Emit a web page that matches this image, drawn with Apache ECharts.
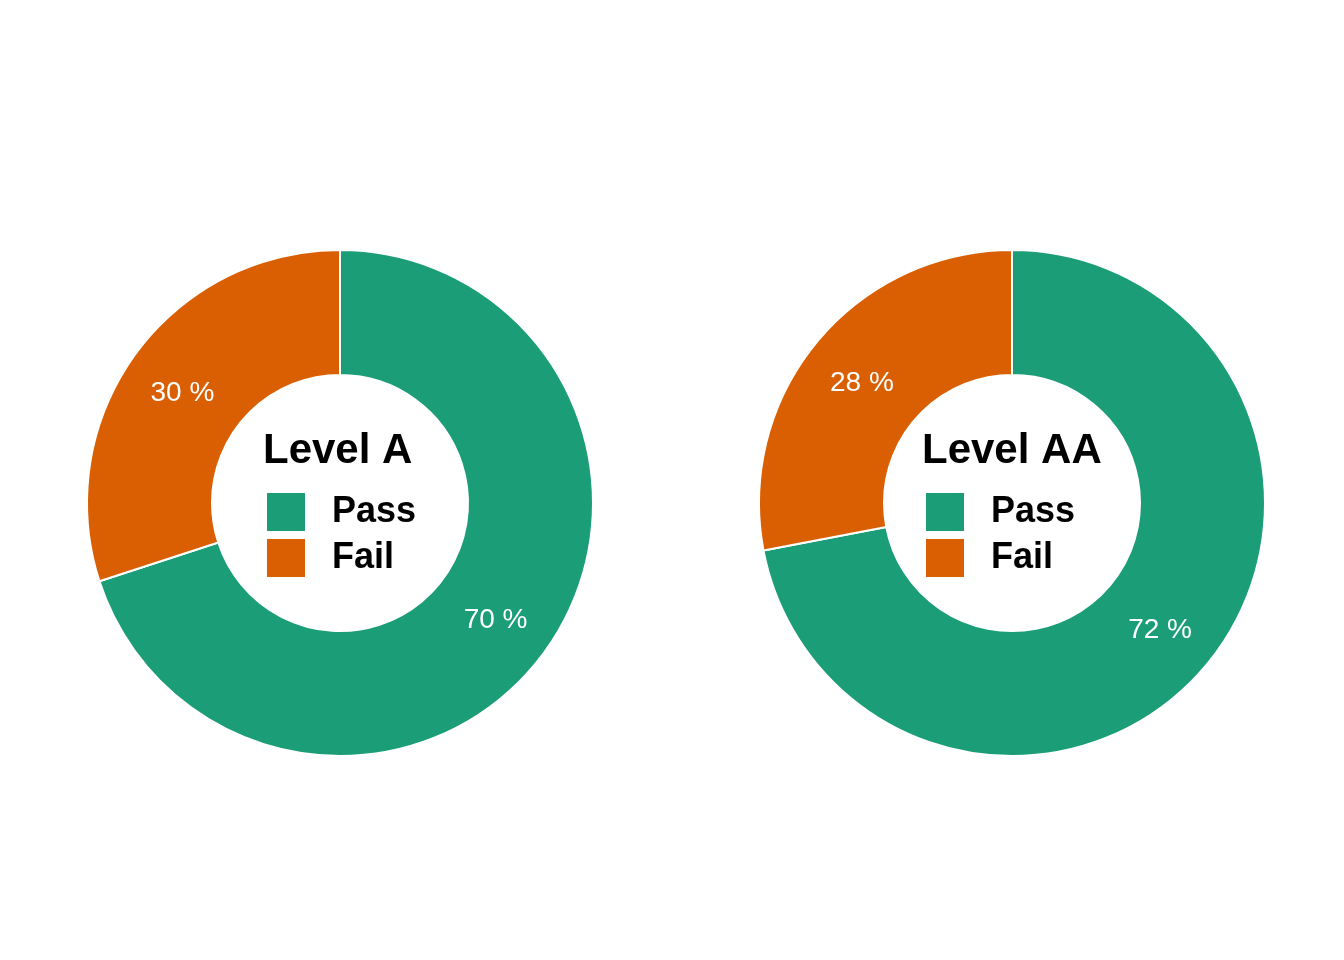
<!DOCTYPE html>
<html>
<head>
<meta charset="utf-8">
<script src="https://cdn.jsdelivr.net/npm/echarts@6/dist/echarts.min.js"></script>
<style>
html, body { margin: 0; padding: 0; background: #fff; }
#container { width: 1344px; height: 960px; }
</style>
</head>
<body>
<div id="container"></div>
<script>
var categories = ['Pass', 'Fail'];
var levels = ['Level A', 'Level AA'];
var levelA = [70, 30];
var levelAA = [72, 28];
var colors = ['#1b9e77', '#d95f02'];

window.onload = function()
{
var myChart = echarts.init(document.getElementById('container'));
var centers = [340, 1012];
// left edge of each inner legend block (title + items)
var boxLeft = [263, 922];
var values = [levelA, levelAA];
var font = 'Liberation Sans, Arial, Helvetica, sans-serif';

function pieData(vals) {
    return categories.map(function (c, i) {
        return { name: c, value: vals[i] };
    });
}

option = {
    color: colors,
    animation: false,
    title: levels.map(function (t, i) {
        return {
            text: t,
            left: boxLeft[i],
            top: 430,
            padding: 0,
            textStyle: { fontFamily: font, fontSize: 42, fontWeight: 'bold', color: '#000' }
        };
    }),
    legend: levels.map(function (t, i) {
        return {
            data: categories,
            orient: 'vertical',
            left: boxLeft[i] + 2,
            top: 491,
            padding: 0,
            itemWidth: 40,
            itemHeight: 40,
            itemGap: 4,
            icon: 'rect',
            selectedMode: false,
            textStyle: {
                fontFamily: font, fontSize: 36, fontWeight: 'bold', color: '#000',
                lineHeight: 40, padding: [0, 0, 0, 21]
            }
        };
    }),
    series: values.map(function (v, i) {
        return {
            type: 'pie',
            name: levels[i],
            center: [centers[i], 503],
            radius: [128, 253],
            startAngle: 90,
            clockwise: true,
            itemStyle: { borderColor: '#fff', borderWidth: 2 },
            label: {
                show: true,
                position: 'inside',
                formatter: '{c} %',
                color: '#fff',
                fontFamily: font,
                fontSize: 28,
                offset: [-1, 4]
            },
            labelLine: { show: false },
            emphasis: { disabled: true },
            data: pieData(v)
        };
    })
};

myChart.setOption(option);
};
</script>
</body>
</html>
